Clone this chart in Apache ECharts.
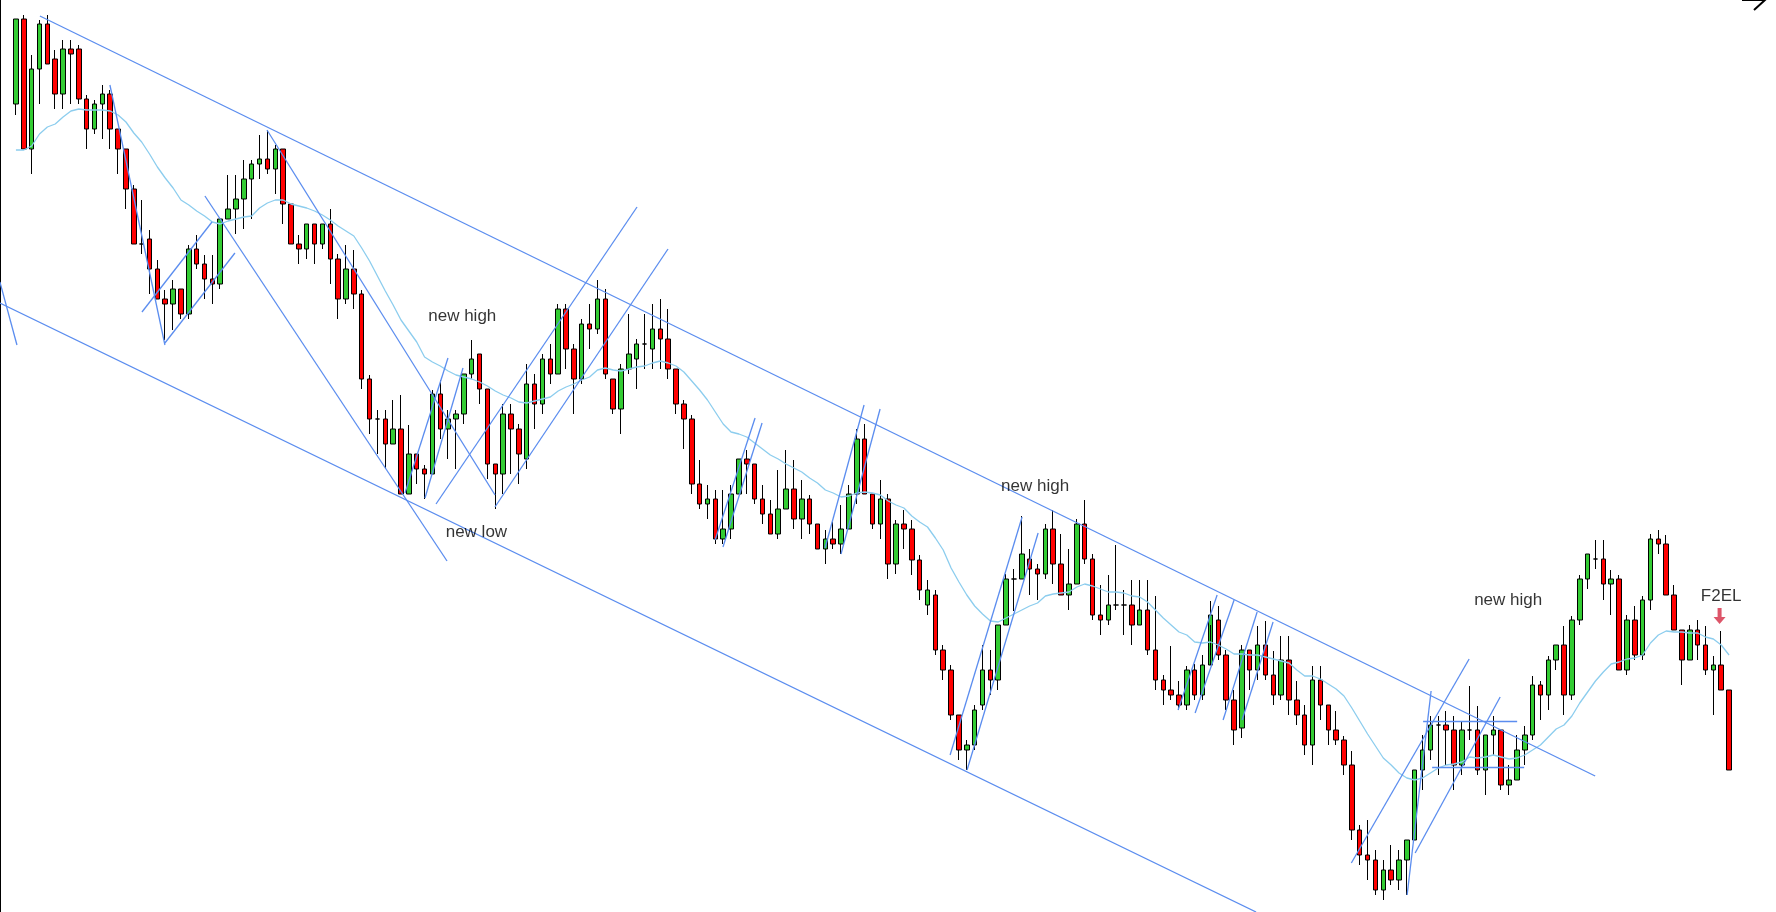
<!DOCTYPE html>
<html><head><meta charset="utf-8">
<script src="https://cdn.jsdelivr.net/npm/echarts/dist/echarts.min.js"></script>
<style>html,body{margin:0;padding:0;background:#fff}#c{width:1776px;height:912px}</style>
</head><body><div id="c"></div>
<script>
const opens = [896,981,851,931,976,941,906,951,951,901,
871,896,906,871,851,811,756,761,731,701,
696,711,686,751,736,721,716,781,791,801,
821,836,841,831,851,796,756,751,776,756,
776,741,701,731,706,621,581,581,556,571,
506,546,531,526,606,571,581,586,626,646,
611,536,526,586,571,541,616,596,641,626,
691,651,621,676,671,701,621,591,631,641,
656,651,671,661,631,596,581,516,496,501,
461,471,506,541,536,501,486,466,491,511,
481,501,476,451,461,456,471,506,561,506,
476,501,436,476,471,440,395,405,350,330,
285,250,255,295,330,320,375,421,421,441,
431,426,471,436,405,416,476,441,385,380,
395,395,395,375,390,350,320,310,305,295,
330,305,335,380,345,300,272,350,330,355,
325,305,340,300,285,255,320,295,270,260,
235,170,145,140,110,130,120,140,160,230,
250,275,275,270,235,270,270,230,265,270,
215,220,250,265,315,305,340,355,305,380,
421,441,441,416,421,330,380,345,400,461,
456,405,370,340,370,355,330,335,310];
const closes = [981,851,931,976,936,906,951,946,901,871,
896,906,871,851,811,756,756,731,701,696,
711,686,751,736,721,716,781,791,801,821,
836,841,831,851,796,756,751,776,756,776,
741,701,731,706,621,581,581,556,571,506,
546,531,526,606,571,581,586,626,641,611,
536,526,586,571,546,616,596,641,626,691,
651,621,676,671,701,626,591,631,646,656,
656,671,661,631,596,581,516,496,501,461,
471,506,541,536,501,486,466,491,511,481,
501,476,451,461,456,471,506,561,506,476,
501,436,476,471,440,410,410,350,330,285,
250,255,290,330,320,375,421,421,446,431,
426,471,436,405,416,476,441,385,380,395,
395,395,375,390,350,320,310,305,295,330,
305,335,385,345,300,270,350,330,355,325,
305,340,300,285,255,320,295,270,260,235,
170,145,140,110,130,120,140,160,230,250,
275,275,270,235,270,270,230,265,270,215,
220,250,265,315,305,340,355,305,380,421,
446,441,416,421,330,380,345,400,461,456,
405,370,340,370,355,330,335,310,230];
const lows = [885,851,826,896,936,891,891,896,896,851,
866,861,851,826,791,756,746,706,701,660,
670,681,681,731,701,696,711,781,766,771,
781,821,826,806,776,756,736,741,736,751,
716,681,696,691,611,566,546,531,556,506,
506,516,501,526,561,541,531,576,621,596,
521,491,506,526,516,531,571,586,616,626,
631,586,616,651,666,621,586,566,626,611,
631,631,631,621,586,551,506,491,481,456,
456,461,506,506,496,476,466,461,491,471,
461,466,451,436,451,446,471,496,506,471,
461,421,426,451,425,400,385,345,320,280,
240,230,250,290,305,310,375,389,421,405,
400,421,416,405,390,416,436,380,365,375,
390,365,355,375,345,310,295,300,290,290,
300,300,375,340,290,255,262,310,320,320,
295,300,285,275,245,235,280,255,255,225,
160,135,120,105,100,115,110,105,160,210,
240,225,235,210,225,260,225,205,245,210,
205,220,235,260,280,290,330,285,300,375,
411,431,400,385,330,325,340,340,390,446,
405,370,315,340,340,325,285,310,230];
const highs = [981,985,945,980,985,950,960,960,955,905,
900,915,910,871,851,815,800,770,740,710,
720,711,755,765,745,745,781,825,825,840,
840,865,870,855,851,796,765,776,776,776,
791,746,755,750,710,625,590,590,600,605,
575,546,535,610,620,590,590,626,660,646,
611,536,596,596,576,636,626,646,656,696,
696,656,681,696,720,711,621,636,686,661,
686,696,701,691,631,600,585,540,515,510,
510,515,541,550,536,515,500,530,550,540,
520,505,476,470,478,495,515,571,576,506,
520,506,480,490,480,445,420,410,355,335,
285,260,295,355,350,375,426,431,484,451,
436,476,490,466,451,481,500,446,415,425,
455,410,420,420,420,404,325,354,319,334,
336,345,399,394,350,310,355,350,374,379,
349,364,364,319,295,334,334,295,289,264,
249,175,180,150,140,155,150,160,230,265,
284,284,289,284,278,314,294,265,284,270,
235,265,274,324,319,344,355,374,384,425,
446,460,460,430,425,385,394,404,466,470,
465,415,370,375,380,374,344,369,310];
const movingAvg = [850,850,854,866,873,876,883,889,891,890,
890,890,889,885,878,867,858,846,833,822,
812,800,795,789,784,778,776,779,781,783,
784,792,797,800,800,796,794,792,789,785,
780,774,769,764,752,739,724,709,695,680,
669,658,643,638,634,629,625,623,621,618,
614,609,605,602,598,597,599,601,603,609,
613,616,620,623,630,632,630,629,631,633,
634,637,639,637,634,628,619,610,600,588,
576,568,566,563,557,551,545,541,536,532,
528,522,517,510,507,503,504,507,508,507,
505,499,495,492,484,478,473,462,450,432,
418,405,394,386,379,378,382,386,390,394,
397,404,406,407,408,413,416,414,411,408,
408,407,404,403,398,390,382,375,368,365,
358,357,358,355,351,346,346,345,345,343,
341,339,337,330,324,324,321,316,311,304,
292,279,266,254,242,235,227,222,220,222,
227,232,235,236,238,243,242,243,245,243,
241,242,245,250,255,263,271,275,284,297,
308,319,328,336,338,341,342,345,357,365,
369,368,368,367,367,363,361,355,345];
// trend lines: [barFrom, priceFrom, barTo, priceTo]
const trendLines = [
 [3.05,984,200.97,224],
 [-2.04,697,157.82,88],
 [-2.04,718,0.13,655],
 [11.96,915,18.96,655],
 [16.04,688,24.95,778],
 [18.96,657,27.87,747],
 [24.05,804,54.86,439],
 [31.95,870,60.97,505],
 [49.51,507,54.98,642],
 [52.06,502,56.89,632],
 [53.46,496,79.04,793],
 [60.96,493,82.98,751],
 [88.97,460,94.06,582],
 [89.98,453,94.95,577],
 [102.97,452,107.93,595],
 [105.0,446,109.97,591],
 [118.88,245,128.04,483],
 [121.04,230,130.08,467],
 [147.89,290,152.86,405],
 [150.06,287,155.02,400],
 [153.62,280,157.95,388],
 [156.04,280,159.98,378],
 [169.94,137,184.93,341],
 [177.04,105,180.09,309],
 [178.06,147,188.88,303],
 [179.07,279,191.04,279],
 [180.22,233,191.93,233]
];
const noteTexts = ['new high','new low','new high','new high','F2EL'];
const noteBars = [56.8,58.6,129.7,189.9,217.0];
const notePrices = [684,468,514,400,404];
const arrowBar = [216.8];
const arrowPrice = [384];
const barIndex = opens.map((_, i) => String(i));

const chart = echarts.init(document.getElementById('c'), null, {renderer:'canvas'});
const PMIN = 88, PMAX = 1000;
chart.setOption({
  animation:false,
  backgroundColor:'#fff',
  grid:[
    {left:0,right:0,top:0,bottom:0,containLabel:false},
    {left:12,right:43,top:0,bottom:0,containLabel:false}
  ],
  xAxis:[
    {gridIndex:0,type:'value',min:-2.027,max:223.98,show:false},
    {gridIndex:1,type:'category',data:barIndex,boundaryGap:true,show:false}
  ],
  yAxis:[
    {gridIndex:0,type:'value',min:PMIN,max:PMAX,position:'left',
     axisLine:{show:true,onZero:false,lineStyle:{color:'#000',width:1}},axisTick:{show:false},axisLabel:{show:false},splitLine:{show:false}},
    {gridIndex:1,type:'value',min:PMIN,max:PMAX,show:false,splitLine:{show:false}}
  ],
  series:[
    {type:'candlestick',xAxisIndex:1,yAxisIndex:1,barWidth:5,z:3,
     data:opens.map((o,i)=>[o,closes[i],lows[i],highs[i]]),
     itemStyle:{color:'#33cc33',color0:'#ff0000',borderColor:'#000',borderColor0:'#000',borderColorDoji:'#000',borderWidth:1}},
    {type:'line',xAxisIndex:1,yAxisIndex:1,data:movingAvg,symbol:'none',z:4,silent:true,
     lineStyle:{color:'#8ccdee',width:1.3}},
    {type:'lines',coordinateSystem:'cartesian2d',xAxisIndex:0,yAxisIndex:0,z:5,silent:true,
     data:trendLines.map(l=>({coords:[[l[0],l[1]],[l[2],l[3]]]})),
     lineStyle:{color:'#5b8def',width:1.3,opacity:1}},
    {type:'scatter',xAxisIndex:0,yAxisIndex:0,symbolSize:0,z:6,silent:true,
     data:noteTexts.map((t,i)=>({name:t,value:[noteBars[i],notePrices[i]]})),
     label:{show:true,position:'inside',formatter:'{b}',fontSize:17,color:'#000',fontFamily:'Liberation Sans, Arial, sans-serif'}},
    {type:'scatter',xAxisIndex:0,yAxisIndex:0,z:6,silent:true,
     symbol:'path://M4,0 L8,0 L8,9 L12,9 L6,16 L0,9 L4,9 Z',symbolSize:[12,16],
     itemStyle:{color:'#d42a44'},
     data:arrowBar.map((b,i)=>[b,arrowPrice[i]])}
  ],
  graphic:[
    {type:'polyline',shape:{points:[[1742,0],[1764,0]]},style:{stroke:'#000',lineWidth:2}},
    {type:'polyline',shape:{points:[[1754,-10],[1765,0],[1754,10]]},style:{stroke:'#000',lineWidth:2,fill:null}}
  ]
});
</script>
</body></html>
